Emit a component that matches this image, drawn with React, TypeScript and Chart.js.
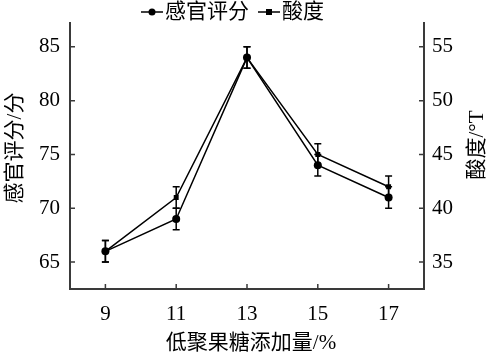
import React, { useEffect, useRef } from "react";
import { Chart, registerables } from "chart.js";

Chart.register(...registerables);

const xValues = [9, 11, 13, 15, 17];
const sensoryScores = [66, 69, 84, 74, 71];
const sensoryErrors = [1, 1, 1, 1, 1];
const acidity = [36, 41, 54, 45, 42];
const acidityErrors = [1, 1, 1, 1, 1];
const xTicks = [9, 11, 13, 15, 17];
const leftTicks = [65, 70, 75, 80, 85];
const rightTicks = [35, 40, 45, 50, 55];
const seriesNames = ["感官评分", "酸度"];
const xTitle = "低聚果糖添加量/%";
const leftTitle = "感官评分/分";
const rightTitle = "酸度/°T";

const FONT = '"Liberation Serif", "Noto Sans CJK SC", serif';
const AXIS_COLOR = "#3a3a3a";

const errorBarPlugin = {
  id: "errorBars",
  afterDatasetsDraw(chart: any) {
    const ctx = chart.ctx;
    const errs = [sensoryErrors, acidityErrors];
    chart.data.datasets.forEach((ds: any, di: number) => {
      const yScale = chart.scales[ds.yAxisID];
      const xScale = chart.scales.x;
      ds.data.forEach((p: any, i: number) => {
        const e = errs[di][i];
        const x = xScale.getPixelForValue(p.x);
        const yTop = yScale.getPixelForValue(p.y + e);
        const yBot = yScale.getPixelForValue(p.y - e);
        ctx.save();
        ctx.strokeStyle = "#000";
        ctx.lineWidth = 1.5;
        ctx.beginPath();
        ctx.moveTo(x, yTop);
        ctx.lineTo(x, yBot);
        ctx.moveTo(x - 3.5, yTop);
        ctx.lineTo(x + 3.5, yTop);
        ctx.moveTo(x - 3.5, yBot);
        ctx.lineTo(x + 3.5, yBot);
        ctx.stroke();
        ctx.restore();
      });
    });
  },
};

const decorPlugin = {
  id: "decor",
  afterDraw(chart: any) {
    const ctx = chart.ctx;
    const { left, right, bottom } = chart.chartArea;
    const sx = chart.scales.x;
    const sy = chart.scales.y;
    const sy1 = chart.scales.y1;
    ctx.save();
    // inward ticks
    ctx.strokeStyle = AXIS_COLOR;
    ctx.lineWidth = 1.5;
    ctx.beginPath();
    xTicks.forEach((v) => {
      const x = sx.getPixelForValue(v);
      ctx.moveTo(x, bottom);
      ctx.lineTo(x, bottom - 5);
    });
    leftTicks.forEach((v) => {
      const y = sy.getPixelForValue(v);
      ctx.moveTo(left, y);
      ctx.lineTo(left + 5, y);
    });
    rightTicks.forEach((v) => {
      const y = sy1.getPixelForValue(v);
      ctx.moveTo(right, y);
      ctx.lineTo(right - 5, y);
    });
    ctx.stroke();

    // axis titles
    ctx.fillStyle = "#000";
    ctx.font = `21px ${FONT}`;
    ctx.textAlign = "center";
    ctx.textBaseline = "middle";
    ctx.fillText(xTitle, 251, 343);

    ctx.save();
    ctx.translate(15, 148);
    ctx.rotate(-Math.PI / 2);
    ctx.fillText(leftTitle, 0, 0);
    ctx.restore();

    ctx.save();
    ctx.translate(477, 145);
    ctx.rotate(-Math.PI / 2);
    ctx.fillText(rightTitle, 0, 0);
    ctx.restore();

    // legend
    const drawMarker = (x0: number, style: string) => {
      ctx.strokeStyle = "#000";
      ctx.lineWidth = 1.5;
      ctx.beginPath();
      ctx.moveTo(x0, 12);
      ctx.lineTo(x0 + 22, 12);
      ctx.stroke();
      ctx.fillStyle = "#000";
      if (style === "circle") {
        ctx.beginPath();
        ctx.arc(x0 + 11, 12, 3.5, 0, Math.PI * 2);
        ctx.fill();
      } else {
        ctx.fillRect(x0 + 8, 9, 6, 6);
      }
    };
    drawMarker(141, "circle");
    drawMarker(258, "rect");
    ctx.fillStyle = "#000";
    ctx.textAlign = "left";
    ctx.font = `21px ${FONT}`;
    ctx.fillText(seriesNames[0], 165, 12);
    ctx.fillText(seriesNames[1], 282, 12);
    ctx.restore();
  },
};

export default function App() {
  const canvasRef = useRef<HTMLCanvasElement | null>(null);

  useEffect(() => {
    const canvas = canvasRef.current;
    if (!canvas) return;
    const chart = new Chart(canvas, {
      type: "line",
      data: {
        datasets: [
          {
            label: seriesNames[0],
            data: xValues.map((x, i) => ({ x, y: sensoryScores[i] })),
            yAxisID: "y",
            borderColor: "#000",
            backgroundColor: "#000",
            borderWidth: 1.5,
            pointStyle: "circle",
            pointRadius: 4,
            pointBorderWidth: 0,
            tension: 0,
          },
          {
            label: seriesNames[1],
            data: xValues.map((x, i) => ({ x, y: acidity[i] })),
            yAxisID: "y1",
            borderColor: "#000",
            backgroundColor: "#000",
            borderWidth: 1.5,
            pointStyle: "rect",
            pointRadius: 3.5,
            pointBorderWidth: 0,
            tension: 0,
          },
        ],
      },
      options: {
        animation: false,
        responsive: true,
        maintainAspectRatio: false,
        layout: { padding: { top: 14, left: 0, right: 0, bottom: 0 } },
        plugins: {
          legend: { display: false },
          tooltip: { enabled: false },
        },
        scales: {
          x: {
            type: "linear",
            min: 8,
            max: 18,
            afterBuildTicks: (s: any) => {
              s.ticks = xTicks.map((v) => ({ value: v }));
            },
            afterFit: (s: any) => {
              s.height = 71;
            },
            grid: { display: false, drawTicks: false },
            border: { display: true, color: AXIS_COLOR, width: 2 },
            ticks: {
              padding: 13,
              color: "#000",
              font: { family: FONT, size: 21 },
              maxRotation: 0,
            },
          },
          y: {
            type: "linear",
            position: "left",
            min: 62.5,
            max: 87.25,
            afterBuildTicks: (s: any) => {
              s.ticks = leftTicks.map((v) => ({ value: v }));
            },
            afterFit: (s: any) => {
              s.width = 70;
            },
            grid: { display: false, drawTicks: false },
            border: { display: true, color: AXIS_COLOR, width: 2 },
            ticks: {
              padding: 10,
              color: "#000",
              font: { family: FONT, size: 21 },
            },
          },
          y1: {
            type: "linear",
            position: "right",
            min: 32.5,
            max: 57.25,
            afterBuildTicks: (s: any) => {
              s.ticks = rightTicks.map((v) => ({ value: v }));
            },
            afterFit: (s: any) => {
              s.width = 68;
            },
            grid: { display: false, drawTicks: false },
            border: { display: true, color: AXIS_COLOR, width: 2 },
            ticks: {
              padding: 8,
              color: "#000",
              font: { family: FONT, size: 21 },
            },
          },
        },
      },
      plugins: [errorBarPlugin, decorPlugin],
    });
    return () => chart.destroy();
  }, []);

  return (
    <div
      style={{
        position: "fixed",
        left: 0,
        top: 0,
        width: 492,
        height: 360,
        background: "#fff",
      }}
    >
      <canvas ref={canvasRef} />
    </div>
  );
}
